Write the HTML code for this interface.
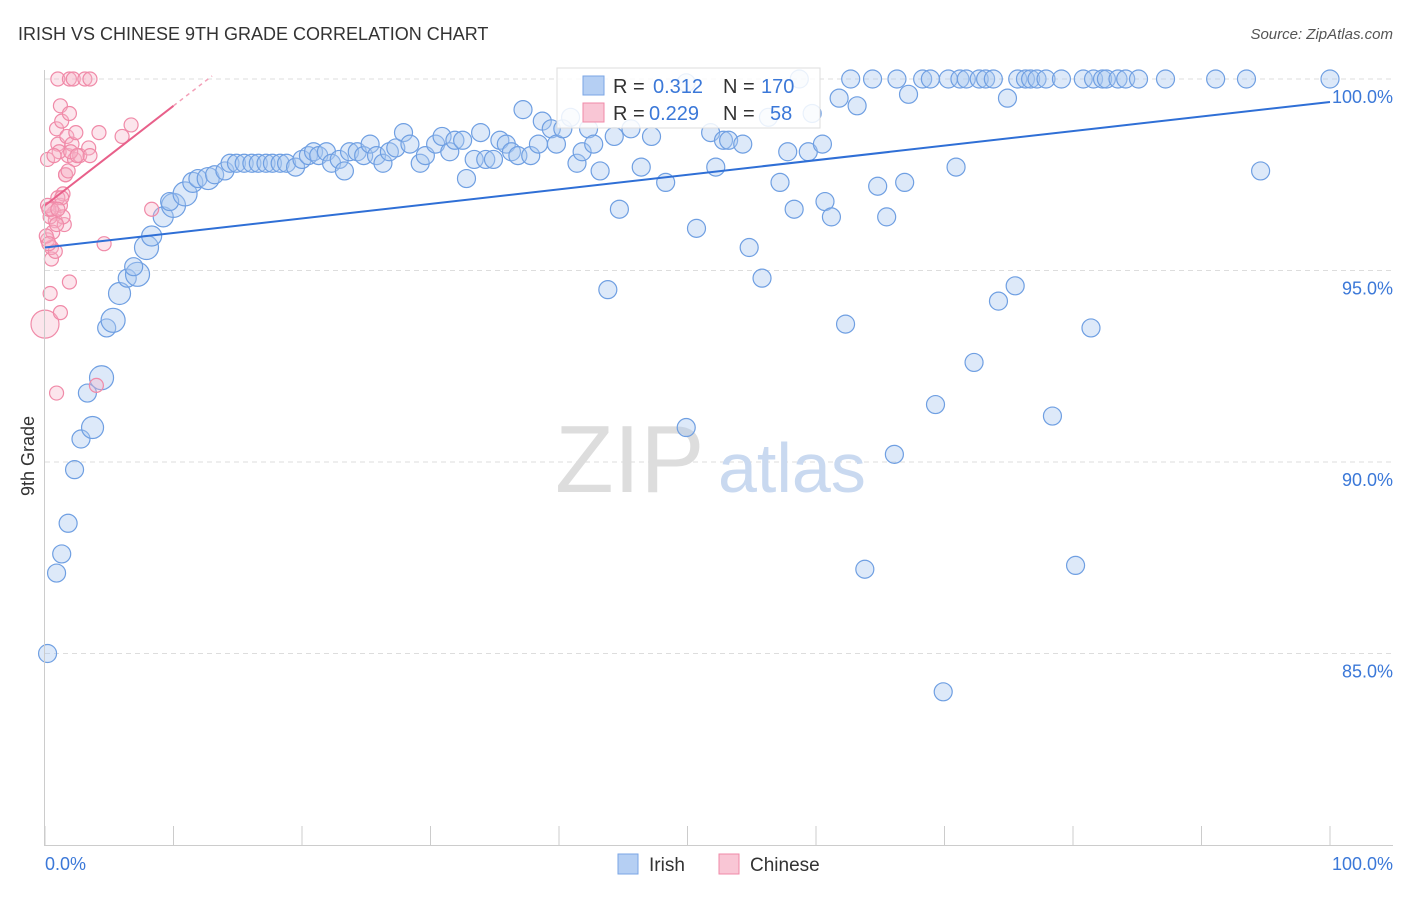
<!DOCTYPE html>
<html><head><meta charset="utf-8"><style>
body{margin:0;background:#fff;font-family:"Liberation Sans",sans-serif;}
svg text{font-family:"Liberation Sans",sans-serif;}
</style></head><body>
<svg id="chart" width="1406" height="892" xmlns="http://www.w3.org/2000/svg">
<text x="18" y="40" font-size="18" fill="#333">IRISH VS CHINESE 9TH GRADE CORRELATION CHART</text>
<text x="1393" y="39" font-size="15" fill="#555" text-anchor="end" font-style="italic">Source: ZipAtlas.com</text>
<text transform="translate(34,456) rotate(-90)" font-size="18" fill="#333" text-anchor="middle">9th Grade</text>
<g id="grid"></g>
<text x="555" y="492" font-size="96" fill="#ddd" font-family="Liberation Serif">ZIP</text>
<text x="718" y="492" font-size="70" fill="#c9d9f0">atlas</text>
<g id="pts"></g>
<g id="lines"></g>
<g id="axes"></g>
<g>
<rect x="557" y="68" width="263" height="60" fill="#fff" fill-opacity="0.85" stroke="#ddd"/>
<rect x="583" y="76" width="21" height="19" fill="#b5cff3" stroke="#7aa6e6"/>
<text x="613" y="93" font-size="20" fill="#333">R = </text><text x="653" y="93" font-size="20" fill="#3b78d8">0.312</text>
<text x="723" y="93" font-size="20" fill="#333">N = </text><text x="761" y="93" font-size="20" fill="#3b78d8">170</text>
<rect x="583" y="103" width="21" height="19" fill="#f9c6d5" stroke="#f08aa8"/>
<text x="613" y="120" font-size="20" fill="#333">R = </text><text x="649" y="120" font-size="20" fill="#3b78d8">0.229</text>
<text x="723" y="120" font-size="20" fill="#333">N = </text><text x="770" y="120" font-size="20" fill="#3b78d8">58</text>
</g>
<g>
<rect x="618" y="854" width="20" height="20" fill="#b5cff3" stroke="#7aa6e6"/>
<text x="649" y="871" font-size="19" fill="#333">Irish</text>
<rect x="719" y="854" width="20" height="20" fill="#f9c6d5" stroke="#f08aa8"/>
<text x="750" y="871" font-size="19" fill="#333">Chinese</text>
</g>
</svg>
<script>
const yTicks=[85,90,95,100];
const yTickLabels=["85.0%","90.0%","95.0%","100.0%"];
const xTickLabels=["0.0%","100.0%"];
const irishX=[0.2,0.9,1.3,1.8,2.3,2.8,3.7,3.3,4.4,4.8,5.3,5.8,6.4,7.2,6.9,7.9,8.3,9.2,10.0,9.7,10.9,11.5,11.9,12.7,13.2,14.0,14.4,14.9,15.5,16.1,16.6,17.2,17.7,18.3,18.8,19.5,20.0,20.5,20.9,21.3,21.9,22.3,22.9,23.3,23.7,24.3,24.8,25.3,25.8,26.3,26.8,27.3,27.9,28.4,29.2,29.6,30.4,30.9,31.5,31.9,32.5,32.8,33.4,33.9,34.3,34.9,35.4,35.9,36.3,36.8,37.2,37.8,38.4,38.7,39.4,39.8,40.3,40.9,41.4,41.8,42.3,42.7,43.2,43.8,44.3,44.7,45.6,46.4,47.2,48.3,49.9,49.9,50.7,51.8,52.2,52.8,53.2,54.3,54.8,55.8,56.3,57.2,57.8,58.3,58.7,59.4,59.7,60.5,60.7,61.2,61.8,62.3,62.7,63.2,63.8,64.4,64.8,65.5,66.1,66.3,66.9,67.2,68.3,68.9,69.3,69.9,70.3,70.9,71.2,71.7,72.3,72.7,73.2,73.8,74.2,74.9,75.5,75.7,76.3,76.7,77.2,77.9,78.4,79.1,80.2,80.8,81.4,81.6,82.3,82.6,83.5,84.1,85.1,87.2,91.1,93.5,94.6,100];
const irishY=[85.0,87.1,87.6,88.4,89.8,90.6,90.9,91.8,92.2,93.5,93.7,94.4,94.8,94.9,95.1,95.6,95.9,96.4,96.7,96.8,97.0,97.3,97.4,97.4,97.5,97.6,97.8,97.8,97.8,97.8,97.8,97.8,97.8,97.8,97.8,97.7,97.9,98.0,98.1,98.0,98.1,97.8,97.9,97.6,98.1,98.1,98.0,98.3,98.0,97.8,98.1,98.2,98.6,98.3,97.8,98.0,98.3,98.5,98.1,98.4,98.4,97.4,97.9,98.6,97.9,97.9,98.4,98.3,98.1,98.0,99.2,98.0,98.3,98.9,98.7,98.3,98.7,99.0,97.8,98.1,98.7,98.3,97.6,94.5,98.5,96.6,98.7,97.7,98.5,97.3,99.9,90.9,96.1,98.6,97.7,98.4,98.4,98.3,95.6,94.8,99.0,97.3,98.1,96.6,100,98.1,99.1,98.3,96.8,96.4,99.5,93.6,100,99.3,87.2,100,97.2,96.4,90.2,100,97.3,99.6,100,100,91.5,84.0,100,97.7,100,100,92.6,100,100,100,94.2,99.5,94.6,100,100,100,100,100,91.2,100,87.3,100,93.5,100,100,100,100,100,100,100,100,100,97.6,100];
const irishBig=[9,9,9,9,9,9,11,9,12,9,12,11,9,12,9,12,10,10,12,9,12,10,9,11,9,9,9,9,9,9,9,9,9,9,9,9,9,9,9,9,9,9,9,9,9];
const chineseX=[0,0.2,0.2,0.4,0.5,0.7,0.5,0.8,0.9,0.9,1.0,1.0,1.2,1.2,1.3,1.4,1.5,1.2,1.6,1.7,1.8,1.9,1.9,1.9,2.1,2.2,2.3,2.4,2.7,3.1,3.4,3.5,3.5,4.0,4.2,4.6,6.0,6.7,8.3,1.0,0.4,1.6,0.2,0.6,1.1,0.3,0.8,1.4,2.0,0.1,0.9,1.3,0.5,0.7,2.5,1.8,0.3,1.0];
const chineseY=[93.6,97.9,95.8,94.4,95.3,96.5,95.6,96.3,91.8,98.7,100,98.3,96.7,93.9,98.9,97.0,96.2,99.3,97.5,98.5,98.0,100,99.1,94.7,98.3,100,97.9,98.6,98.0,100,98.2,100,98.0,92.0,98.6,95.7,98.5,98.8,96.6,96.9,96.4,97.5,96.7,96.0,98.1,96.6,95.5,96.4,98.1,95.9,96.2,96.9,96.6,98.0,98.0,97.6,95.7,96.6];
const irishLine=[95.6,99.4];
const chineseLine=[96.7,99.3];

const NS="http://www.w3.org/2000/svg";
const X0=45,X1=1330,Y100=79,PX1=38.3;
const xs=v=>X0+(X1-X0)*v/100;
const ys=v=>Y100+(100-v)*PX1;
function mk(tag,at,parent){const e=document.createElementNS(NS,tag);for(const k in at)e.setAttribute(k,at[k]);parent.appendChild(e);return e;}
const grid=document.getElementById('grid'),axes=document.getElementById('axes'),pts=document.getElementById('pts'),lines=document.getElementById('lines');
yTicks.forEach((t,i)=>{
 const l=mk('line',{x1:45,x2:1393,y1:ys(t),y2:ys(t),stroke:'#ddd','stroke-dasharray':'5,4'},grid);
 
 
 const tx=mk('text',{x:1393,y:ys(t)+24,'font-size':18,fill:'#3b78d8','text-anchor':'end'},axes);
 tx.textContent=yTickLabels[i];
 
 
});
mk('line',{x1:44.5,x2:44.5,y1:70,y2:845,stroke:'#ccc'},axes);
mk('line',{x1:44,x2:1393,y1:845.5,y2:845.5,stroke:'#ccc'},axes);
for(let i=0;i<=10;i++){
 const t=mk('line',{x1:xs(i*10),x2:xs(i*10),y1:826,y2:845,stroke:'#ccc'},axes);
 
 
}
const xl0=mk('text',{x:45,y:870,'font-size':18,fill:'#3b78d8'},axes);xl0.textContent=xTickLabels[0];


const xl1=mk('text',{x:1393,y:870,'font-size':18,fill:'#3b78d8','text-anchor':'end'},axes);xl1.textContent=xTickLabels[1];



irishX.forEach((v,i)=>{
 const c=mk('circle',{cx:xs(v),cy:ys(irishY[i]),r:irishBig[i]||9,fill:'#a9c7f0','fill-opacity':0.4,stroke:'#6f9fe2','stroke-width':1.2},pts);
 
 
});
chineseX.forEach((v,i)=>{
 const c=mk('circle',{cx:xs(v),cy:ys(chineseY[i]),r:i==0?14:7,fill:'#f7b5c8','fill-opacity':0.35,stroke:'#f08aa8','stroke-width':1.2},pts);
 
 
});
const bl=mk('line',{x1:xs(0),y1:ys(irishLine[0]),x2:xs(100),y2:ys(irishLine[1]),stroke:'#2f6fd6','stroke-width':2},lines);


const sl=(chineseLine[1]-chineseLine[0])/10;
const pl=mk('line',{x1:xs(0),y1:ys(chineseLine[0]),x2:xs(10),y2:ys(chineseLine[1]),stroke:'#e8608a','stroke-width':2},lines);


const pd=mk('line',{x1:xs(10),y1:ys(chineseLine[1]),x2:xs(13),y2:ys(chineseLine[1]+sl*3),stroke:'#f3a0b8','stroke-width':1.5,'stroke-dasharray':'4,4'},lines);


</script>
</body></html>
